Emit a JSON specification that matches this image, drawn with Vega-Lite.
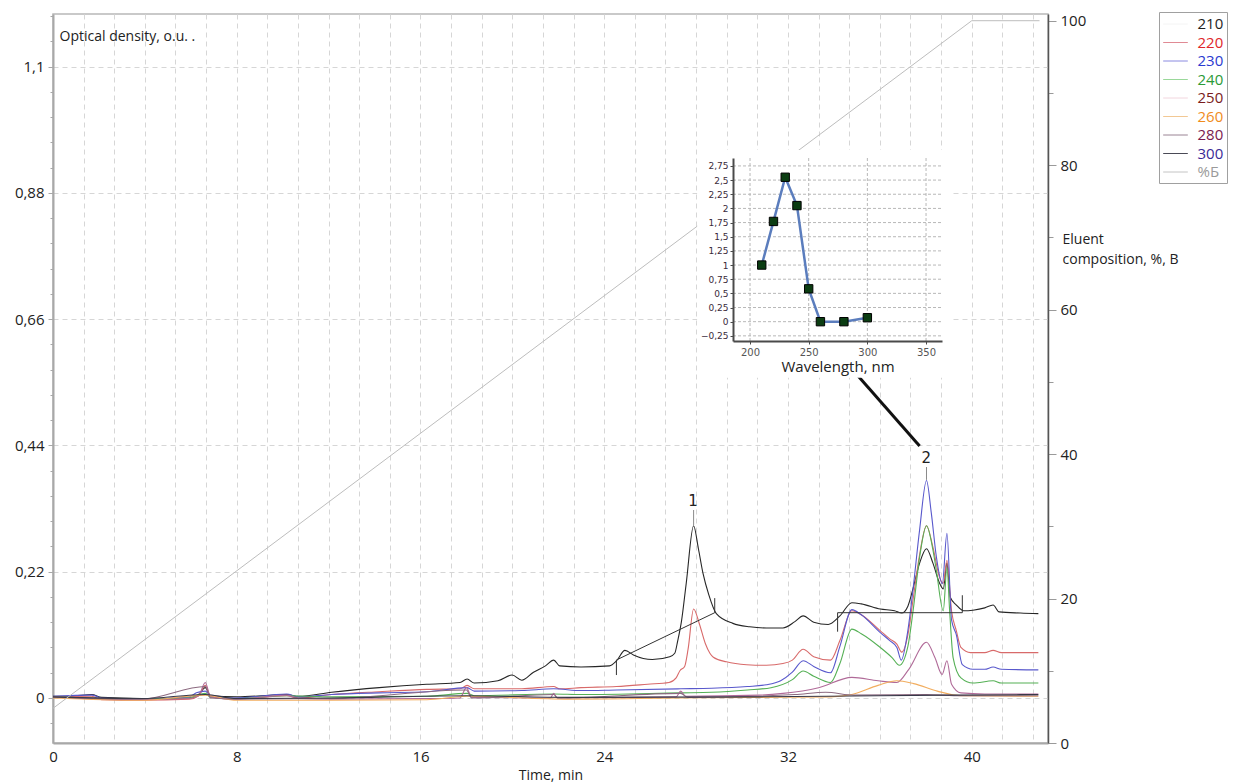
{
  "$schema": "https://vega.github.io/schema/vega-lite/v6.json",
  "width": 995,
  "height": 729,
  "autosize": {"type": "none"},
  "padding": {"left": 53, "top": 14, "right": 206, "bottom": 39},
  "background": "white",
  "config": {
    "font": "Open Sans",
    "view": {"stroke": "#b8b8b8", "strokeWidth": 1.5},
    "axis": {"labelFont": "Open Sans", "titleFont": "Open Sans", "labelOverlap": false}
  },
  "datasets": {
    "chrom": [
      {"wl":"210","t":0,"od":0.003},{"wl":"210","t":0.76,"od":0.003},{"wl":"210","t":1.69,"od":0.006},{"wl":"210","t":2.11,"od":0.001},{"wl":"210","t":3.86,"od":-0.001},{"wl":"210","t":5.93,"od":0.0},{"wl":"210","t":6.34,"od":0.006},{"wl":"210","t":6.63,"od":0.018},{"wl":"210","t":6.86,"od":0.004},{"wl":"210","t":8.0,"od":0.002},{"wl":"210","t":10.17,"od":0.006},{"wl":"210","t":10.69,"od":0.003},{"wl":"210","t":12.13,"od":0.010},{"wl":"210","t":14.2,"od":0.018},{"wl":"210","t":16.27,"od":0.024},{"wl":"210","t":17.72,"od":0.027},{"wl":"210","t":18.03,"od":0.033},{"wl":"210","t":18.34,"od":0.026},{"wl":"210","t":19.37,"od":0.030},{"wl":"210","t":19.99,"od":0.040},{"wl":"210","t":20.41,"od":0.031},{"wl":"210","t":20.92,"od":0.045},{"wl":"210","t":21.44,"od":0.056},{"wl":"210","t":21.8,"od":0.066},{"wl":"210","t":22.06,"od":0.056},{"wl":"210","t":22.99,"od":0.054},{"wl":"210","t":24.23,"od":0.056},{"wl":"210","t":24.54,"od":0.065},{"wl":"210","t":24.9,"od":0.083},{"wl":"210","t":25.27,"od":0.075},{"wl":"210","t":26.09,"od":0.067},{"wl":"210","t":26.85,"od":0.072},{"wl":"210","t":27.07,"od":0.078},{"wl":"210","t":27.2,"od":0.1},{"wl":"210","t":27.36,"od":0.133},{"wl":"210","t":27.57,"od":0.2},{"wl":"210","t":27.89,"od":0.30},{"wl":"210","t":28.1,"od":0.26},{"wl":"210","t":28.3,"od":0.217},{"wl":"210","t":28.55,"od":0.18},{"wl":"210","t":28.88,"od":0.147},{"wl":"210","t":29.6,"od":0.13},{"wl":"210","t":30.33,"od":0.124},{"wl":"210","t":31.06,"od":0.122},{"wl":"210","t":31.78,"od":0.122},{"wl":"210","t":32.3,"od":0.133},{"wl":"210","t":32.66,"od":0.143},{"wl":"210","t":33.12,"od":0.132},{"wl":"210","t":33.75,"od":0.128},{"wl":"210","t":34.26,"od":0.143},{"wl":"210","t":34.78,"od":0.166},{"wl":"210","t":35.19,"od":0.164},{"wl":"210","t":36.02,"od":0.155},{"wl":"210","t":36.64,"od":0.152},{"wl":"210","t":36.95,"od":0.148},{"wl":"210","t":37.22,"od":0.16},{"wl":"210","t":37.44,"od":0.19},{"wl":"210","t":37.73,"od":0.235},{"wl":"210","t":38.03,"od":0.26},{"wl":"210","t":38.31,"od":0.235},{"wl":"210","t":38.6,"od":0.2},{"wl":"210","t":38.76,"od":0.19},{"wl":"210","t":38.92,"od":0.235},{"wl":"210","t":39.07,"od":0.175},{"wl":"210","t":39.33,"od":0.162},{"wl":"210","t":39.64,"od":0.152},{"wl":"210","t":40.05,"od":0.153},{"wl":"210","t":40.57,"od":0.157},{"wl":"210","t":40.93,"od":0.162},{"wl":"210","t":41.19,"od":0.15},{"wl":"210","t":42.12,"od":0.148},{"wl":"210","t":42.9,"od":0.147},

      {"wl":"220","t":0,"od":0.001},{"wl":"220","t":1.69,"od":0.003},{"wl":"220","t":2.11,"od":-0.003},{"wl":"220","t":3.86,"od":-0.004},{"wl":"220","t":5.93,"od":-0.002},{"wl":"220","t":6.34,"od":0.004},{"wl":"220","t":6.63,"od":0.022},{"wl":"220","t":6.86,"od":0.002},{"wl":"220","t":8.0,"od":-0.002},{"wl":"220","t":10.17,"od":0.004},{"wl":"220","t":10.69,"od":0.0},{"wl":"220","t":12.13,"od":0.006},{"wl":"220","t":14.2,"od":0.011},{"wl":"220","t":16.27,"od":0.015},{"wl":"220","t":17.72,"od":0.016},{"wl":"220","t":18.03,"od":0.022},{"wl":"220","t":18.34,"od":0.016},{"wl":"220","t":20.41,"od":0.016},{"wl":"220","t":21.8,"od":0.02},{"wl":"220","t":22.06,"od":0.016},{"wl":"220","t":22.99,"od":0.018},{"wl":"220","t":24.54,"od":0.02},{"wl":"220","t":25.89,"od":0.024},{"wl":"220","t":26.82,"od":0.027},{"wl":"220","t":27.13,"od":0.035},{"wl":"220","t":27.3,"od":0.048},{"wl":"220","t":27.5,"od":0.055},{"wl":"220","t":27.65,"od":0.085},{"wl":"220","t":27.89,"od":0.155},{"wl":"220","t":28.15,"od":0.128},{"wl":"220","t":28.4,"od":0.095},{"wl":"220","t":28.6,"od":0.078},{"wl":"220","t":28.75,"od":0.071},{"wl":"220","t":29.32,"od":0.063},{"wl":"220","t":30.2,"od":0.058},{"wl":"220","t":31.06,"od":0.057},{"wl":"220","t":31.78,"od":0.06},{"wl":"220","t":32.19,"od":0.066},{"wl":"220","t":32.66,"od":0.085},{"wl":"220","t":33.12,"od":0.072},{"wl":"220","t":33.85,"od":0.066},{"wl":"220","t":34.26,"od":0.1},{"wl":"220","t":34.78,"od":0.152},{"wl":"220","t":35.19,"od":0.145},{"wl":"220","t":36.02,"od":0.117},{"wl":"220","t":36.43,"od":0.103},{"wl":"220","t":36.74,"od":0.094},{"wl":"220","t":36.95,"od":0.08},{"wl":"220","t":37.22,"od":0.11},{"wl":"220","t":37.44,"od":0.17},{"wl":"220","t":37.73,"od":0.25},{"wl":"220","t":38.03,"od":0.30},{"wl":"220","t":38.31,"od":0.263},{"wl":"220","t":38.6,"od":0.21},{"wl":"220","t":38.76,"od":0.2},{"wl":"220","t":38.92,"od":0.24},{"wl":"220","t":39.12,"od":0.152},{"wl":"220","t":39.33,"od":0.117},{"wl":"220","t":39.53,"od":0.088},{"wl":"220","t":39.95,"od":0.079},{"wl":"220","t":40.57,"od":0.079},{"wl":"220","t":40.93,"od":0.083},{"wl":"220","t":41.29,"od":0.079},{"wl":"220","t":42.9,"od":0.079},

      {"wl":"230","t":0,"od":0.003},{"wl":"230","t":1.69,"od":0.005},{"wl":"230","t":2.11,"od":0.0},{"wl":"230","t":3.86,"od":-0.002},{"wl":"230","t":5.93,"od":0.002},{"wl":"230","t":6.24,"od":0.009},{"wl":"230","t":6.63,"od":0.012},{"wl":"230","t":6.86,"od":0.004},{"wl":"230","t":8.0,"od":0.0},{"wl":"230","t":10.17,"od":0.007},{"wl":"230","t":10.69,"od":0.002},{"wl":"230","t":12.13,"od":0.006},{"wl":"230","t":14.2,"od":0.009},{"wl":"230","t":16.27,"od":0.011},{"wl":"230","t":18.03,"od":0.018},{"wl":"230","t":18.34,"od":0.012},{"wl":"230","t":20.41,"od":0.013},{"wl":"230","t":21.8,"od":0.016},{"wl":"230","t":22.99,"od":0.013},{"wl":"230","t":24.54,"od":0.014},{"wl":"230","t":27.33,"od":0.016},{"wl":"230","t":28.68,"od":0.017},{"wl":"230","t":30.23,"od":0.020},{"wl":"230","t":31.06,"od":0.023},{"wl":"230","t":31.68,"od":0.03},{"wl":"230","t":32.19,"od":0.045},{"wl":"230","t":32.66,"od":0.065},{"wl":"230","t":33.12,"od":0.055},{"wl":"230","t":33.85,"od":0.044},{"wl":"230","t":34.26,"od":0.09},{"wl":"230","t":34.78,"od":0.154},{"wl":"230","t":35.19,"od":0.145},{"wl":"230","t":36.02,"od":0.114},{"wl":"230","t":36.43,"od":0.1},{"wl":"230","t":36.74,"od":0.088},{"wl":"230","t":36.93,"od":0.066},{"wl":"230","t":37.22,"od":0.118},{"wl":"230","t":37.44,"od":0.188},{"wl":"230","t":37.73,"od":0.293},{"wl":"230","t":38.03,"od":0.379},{"wl":"230","t":38.24,"od":0.322},{"wl":"230","t":38.46,"od":0.246},{"wl":"230","t":38.72,"od":0.199},{"wl":"230","t":38.92,"od":0.287},{"wl":"230","t":39.12,"od":0.136},{"wl":"230","t":39.33,"od":0.11},{"wl":"230","t":39.59,"od":0.058},{"wl":"230","t":40.05,"od":0.05},{"wl":"230","t":40.57,"od":0.05},{"wl":"230","t":40.93,"od":0.054},{"wl":"230","t":41.29,"od":0.05},{"wl":"230","t":42.9,"od":0.049},

      {"wl":"240","t":0,"od":0.002},{"wl":"240","t":2.11,"od":-0.001},{"wl":"240","t":3.86,"od":-0.002},{"wl":"240","t":5.93,"od":0.0},{"wl":"240","t":6.63,"od":0.008},{"wl":"240","t":6.86,"od":0.001},{"wl":"240","t":8.0,"od":-0.001},{"wl":"240","t":10.17,"od":0.004},{"wl":"240","t":12.13,"od":0.002},{"wl":"240","t":16.27,"od":0.003},{"wl":"240","t":18.03,"od":0.008},{"wl":"240","t":18.34,"od":0.004},{"wl":"240","t":21.8,"od":0.007},{"wl":"240","t":22.99,"od":0.006},{"wl":"240","t":27.33,"od":0.009},{"wl":"240","t":28.68,"od":0.01},{"wl":"240","t":30.23,"od":0.014},{"wl":"240","t":31.26,"od":0.018},{"wl":"240","t":32.19,"od":0.032},{"wl":"240","t":32.66,"od":0.047},{"wl":"240","t":33.12,"od":0.038},{"wl":"240","t":33.85,"od":0.027},{"wl":"240","t":34.26,"od":0.06},{"wl":"240","t":34.78,"od":0.12},{"wl":"240","t":35.19,"od":0.112},{"wl":"240","t":36.02,"od":0.088},{"wl":"240","t":36.54,"od":0.07},{"wl":"240","t":36.85,"od":0.057},{"wl":"240","t":37.22,"od":0.09},{"wl":"240","t":37.44,"od":0.15},{"wl":"240","t":37.73,"od":0.245},{"wl":"240","t":38.03,"od":0.30},{"wl":"240","t":38.31,"od":0.258},{"wl":"240","t":38.46,"od":0.222},{"wl":"240","t":38.76,"od":0.152},{"wl":"240","t":38.92,"od":0.227},{"wl":"240","t":39.04,"od":0.15},{"wl":"240","t":39.19,"od":0.07},{"wl":"240","t":39.53,"od":0.035},{"wl":"240","t":40.05,"od":0.026},{"wl":"240","t":40.93,"od":0.03},{"wl":"240","t":41.29,"od":0.026},{"wl":"240","t":42.9,"od":0.026},

      {"wl":"250","t":0,"od":0.002},{"wl":"250","t":2.11,"od":-0.002},{"wl":"250","t":3.86,"od":-0.003},{"wl":"250","t":5.93,"od":-0.001},{"wl":"250","t":6.34,"od":0.004},{"wl":"250","t":6.63,"od":0.027},{"wl":"250","t":6.86,"od":0.002},{"wl":"250","t":8.0,"od":-0.002},{"wl":"250","t":10.17,"od":0.005},{"wl":"250","t":10.69,"od":-0.001},{"wl":"250","t":12.13,"od":-0.002},{"wl":"250","t":16.27,"od":-0.001},{"wl":"250","t":17.72,"od":0.0},{"wl":"250","t":18.0,"od":0.018},{"wl":"250","t":18.23,"od":0.001},{"wl":"250","t":21.65,"od":0.0},{"wl":"250","t":21.8,"od":0.008},{"wl":"250","t":21.96,"od":0.0},{"wl":"250","t":27.13,"od":0.002},{"wl":"250","t":27.33,"od":0.012},{"wl":"250","t":27.54,"od":0.003},{"wl":"250","t":30.75,"od":0.005},{"wl":"250","t":31.78,"od":0.008},{"wl":"250","t":33.33,"od":0.018},{"wl":"250","t":34.78,"od":0.036},{"wl":"250","t":35.92,"od":0.03},{"wl":"250","t":36.74,"od":0.027},{"wl":"250","t":37.26,"od":0.05},{"wl":"250","t":38.03,"od":0.097},{"wl":"250","t":38.4,"od":0.07},{"wl":"250","t":38.71,"od":0.041},{"wl":"250","t":38.92,"od":0.065},{"wl":"250","t":39.12,"od":0.024},{"wl":"250","t":39.53,"od":0.009},{"wl":"250","t":40.57,"od":0.007},{"wl":"250","t":42.9,"od":0.007},

      {"wl":"260","t":0,"od":0.0},{"wl":"260","t":3.86,"od":-0.004},{"wl":"260","t":6.63,"od":0.005},{"wl":"260","t":8.0,"od":-0.004},{"wl":"260","t":12.13,"od":-0.004},{"wl":"260","t":16.27,"od":-0.003},{"wl":"260","t":18.0,"od":0.003},{"wl":"260","t":22.47,"od":-0.002},{"wl":"260","t":27.33,"od":0.0},{"wl":"260","t":30.75,"od":0.001},{"wl":"260","t":33.85,"od":0.002},{"wl":"260","t":34.78,"od":0.006},{"wl":"260","t":35.92,"od":0.022},{"wl":"260","t":36.74,"od":0.03},{"wl":"260","t":37.47,"od":0.025},{"wl":"260","t":38.5,"od":0.012},{"wl":"260","t":39.53,"od":0.004},{"wl":"260","t":42.9,"od":0.003},

      {"wl":"280","t":0,"od":0.002},{"wl":"280","t":3.86,"od":-0.002},{"wl":"280","t":6.63,"od":0.02},{"wl":"280","t":6.86,"od":0.0},{"wl":"280","t":8.0,"od":-0.002},{"wl":"280","t":12.13,"od":-0.001},{"wl":"280","t":18.0,"od":0.014},{"wl":"280","t":18.23,"od":0.0},{"wl":"280","t":21.8,"od":0.006},{"wl":"280","t":21.96,"od":0.0},{"wl":"280","t":27.33,"od":0.008},{"wl":"280","t":27.64,"od":0.001},{"wl":"280","t":32.3,"od":0.006},{"wl":"280","t":33.64,"od":0.01},{"wl":"280","t":34.88,"od":0.005},{"wl":"280","t":38.03,"od":0.006},{"wl":"280","t":39.53,"od":0.004},{"wl":"280","t":42.9,"od":0.004},

      {"wl":"300","t":0,"od":0.002},{"wl":"300","t":3.86,"od":-0.001},{"wl":"300","t":6.63,"od":0.006},{"wl":"300","t":8.0,"od":-0.001},{"wl":"300","t":12.13,"od":0.0},{"wl":"300","t":18.0,"od":0.004},{"wl":"300","t":22.47,"od":0.001},{"wl":"300","t":30.75,"od":0.002},{"wl":"300","t":35.92,"od":0.004},{"wl":"300","t":39.02,"od":0.005},{"wl":"300","t":42.9,"od":0.006}
    ],
    "pb": [
      {"wl":"%Б","t":0,"pb":4.8},{"wl":"%Б","t":40.0,"pb":100},{"wl":"%Б","t":42.95,"pb":100}
    ],
    "peaks": [
      {"t":27.87,"od":0.343,"label":"1"},{"t":38.02,"od":0.418,"label":"2"}
    ],
    "apexTicks": [
      {"t":27.89,"od":0.301,"od2":0.3275},{"t":38.03,"od":0.38,"od2":0.4024}
    ],
    "baselines": [
      {"t":24.53,"od":0.0662,"t2":28.81,"od2":0.1486},
      {"t":24.53,"od":0.0662,"t2":24.53,"od2":0.040},
      {"t":28.81,"od":0.1486,"t2":28.81,"od2":0.174},
      {"t":34.16,"od":0.1486,"t2":39.59,"od2":0.1486},
      {"t":34.16,"od":0.1486,"t2":34.16,"od2":0.1155},
      {"t":39.59,"od":0.1486,"t2":39.59,"od2":0.179}
    ],
    "leader": [
      {"t":34.9,"od":0.568,"t2":37.73,"od2":0.439}
    ],
    "spectrum": [
      {"nm":210,"v":1.0},{"nm":220,"v":1.77},{"nm":230,"v":2.55},{"nm":240,"v":2.05},{"nm":250,"v":0.58},{"nm":260,"v":0.0},{"nm":280,"v":0.0},{"nm":300,"v":0.07}
    ],
    "igx": [{"gx":200},{"gx":250},{"gx":300},{"gx":350}],
    "igy": [{"gy":-0.25},{"gy":0},{"gy":0.25},{"gy":0.5},{"gy":0.75},{"gy":1},{"gy":1.25},{"gy":1.5},{"gy":1.75},{"gy":2},{"gy":2.25},{"gy":2.5},{"gy":2.75}]
  },
  "layer": [
    {
      "layer": [
        {
          "data": {"name": "chrom"},
          "transform": [{"filter": "datum.t < -100"}],
          "mark": {"type": "line", "strokeWidth": 1},
          "encoding": {
            "x": {"field": "t", "type": "quantitative"},
            "y": {"field": "od", "type": "quantitative"},
            "color": {
              "field": "wl", "type": "nominal",
              "scale": {
                "domain": ["210", "220", "230", "240", "250", "260", "280", "300", "%Б"],
                "range": ["#f4f4f4", "#e08a94", "#8a8ae0", "#9ad89a", "#f2d6de", "#f2c894", "#9a8494", "#4a4a56", "#c4c4c4"]
              },
              "legend": {
                "orient": "none", "legendX": 1106, "legendY": -2,
                "title": null,
                "symbolType": "M-1.45,0H1.45", "symbolSize": 289, "symbolStrokeWidth": 1, "symbolOffset": 4.5,
                "labelFontSize": 15, "labelFont": "Open Sans", "labelOffset": 13, "rowPadding": 1.5,
                "padding": 3, "strokeColor": "#a0a0a0", "fillColor": "white",
                "labelExpr": "datum.label + '           '",
                "encode": {
                  "labels": {"update": {"fill": {"signal": "['#1e1e1e','#e0262a','#2a3ad0','#2a9a36','#7a1c1c','#f08c1c','#7a1a50','#3a2a96','#9a9a9a'][indexof(['210','220','230','240','250','260','280','300','%Б'], datum.value)]"}}}
                }
              }
            }
          }
        },
        {
          "data": {"name": "chrom"},
          "mark": {"type": "line", "strokeWidth": 1.1, "interpolate": "monotone"},
          "encoding": {
            "x": {
              "field": "t", "type": "quantitative",
              "scale": {"domain": [0, 43.32], "nice": false, "zero": false},
              "axis": {
                "values": [0, 8, 16, 24, 32, 40],
                "title": "Time, min", "titleFontSize": 14, "titleFontWeight": "normal", "titleColor": "#222", "titlePadding": 4,
                "labelFontSize": 15, "labelColor": "#222", "labelPadding": 6, "labelFlush": false,
                "ticks": false, "grid": false, "domainColor": "#a8a8a8", "domainWidth": 2
              }
            },
            "y": {
              "field": "od", "type": "quantitative",
              "scale": {"domain": [-0.0784, 1.1916], "nice": false, "zero": false},
              "axis": {
                "values": [0, 0.22, 0.44, 0.66, 0.88, 1.1],
                "labelExpr": "replace(format(datum.value, '.2~f'), '.', ',')",
                "labelOverlap": false,
                "grid": true, "gridDash": [5, 4], "gridColor": "#d6d6d6",
                "tickSize": 5, "tickColor": "#a8a8a8",
                "labelFontSize": 15, "labelColor": "#222", "labelPadding": 4,
                "domainColor": "#a8a8a8", "domainWidth": 2,
                "title": "Optical density, o.u. .", "titleAngle": 0, "titleAlign": "left", "titleBaseline": "middle",
                "titleX": 6, "titleY": 22, "titleFontSize": 14, "titleFontWeight": "normal", "titleColor": "#222"
              }
            },
            "stroke": {
              "field": "wl", "type": "nominal",
              "scale": {
                "domain": ["210", "220", "230", "240", "250", "260", "280", "300", "%Б"],
                "range": ["#262626", "#d86a6a", "#5858cc", "#55b055", "#b06a98", "#f2ad5e", "#8c6a80", "#383848", "#bdbdbd"]
              },
              "legend": null
            }
          }
        },
        {
          "data": {"name": "baselines"},
          "mark": {"type": "rule", "color": "#333333", "strokeWidth": 1},
          "encoding": {
            "x": {"field": "t", "type": "quantitative"},
            "x2": {"field": "t2"},
            "y": {"field": "od", "type": "quantitative"},
            "y2": {"field": "od2"}
          }
        },
        {
          "data": {"name": "apexTicks"},
          "mark": {"type": "rule", "color": "#8a8a8a", "strokeWidth": 1},
          "encoding": {
            "x": {"field": "t", "type": "quantitative"},
            "y": {"field": "od", "type": "quantitative"},
            "y2": {"field": "od2"}
          }
        },
        {
          "data": {"name": "leader"},
          "mark": {"type": "rule", "color": "#111111", "strokeWidth": 3},
          "encoding": {
            "x": {"field": "t", "type": "quantitative"},
            "x2": {"field": "t2"},
            "y": {"field": "od", "type": "quantitative"},
            "y2": {"field": "od2"}
          }
        },
        {
          "data": {"name": "peaks"},
          "mark": {"type": "text", "fontSize": 15, "font": "DejaVu Sans", "color": "#222", "baseline": "middle", "align": "center"},
          "encoding": {
            "x": {"field": "t", "type": "quantitative"},
            "y": {"field": "od", "type": "quantitative"},
            "text": {"field": "label"}
          }
        }
      ]
    },
    {
      "data": {"name": "pb"},
      "mark": {"type": "line", "strokeWidth": 1},
      "encoding": {
        "x": {
          "field": "t", "type": "quantitative",
          "scale": {"domain": [0, 43.32], "nice": false, "zero": false},
          "axis": {
            "orient": "bottom",
            "values": [1.3333, 2.6667, 4, 5.3333, 6.6667, 8, 9.3333, 10.6667, 12, 13.3333, 14.6667, 16, 17.3333, 18.6667, 20, 21.3333, 22.6667, 24, 25.3333, 26.6667, 28, 29.3333, 30.6667, 32, 33.3333, 34.6667, 36, 37.3333, 38.6667, 40, 41.3333, 42.6667],
            "grid": true, "gridDash": [5, 4], "gridColor": "#d6d6d6",
            "labels": false, "ticks": false, "domain": false, "title": null
          }
        },
        "y": {
          "field": "pb", "type": "quantitative",
          "scale": {"domain": [0, 100.93], "nice": false, "zero": false},
          "axis": {
            "orient": "right",
            "values": [0, 10, 20, 30, 40, 50, 60, 70, 80, 90, 100],
            "labelExpr": "datum.value % 20 == 0 ? datum.label : ''",
            "labelOverlap": false,
            "tickSize": {"condition": {"test": "datum.value % 20 == 0", "value": 8}, "value": 5},
            "tickColor": "#9a9a9a",
            "grid": false,
            "labelFontSize": 15, "labelColor": "#222", "labelPadding": 4,
            "domainColor": "#555555", "domainWidth": 1.5,
            "title": ["Eluent", "composition, %, B"],
            "titleAngle": 0, "titleAlign": "left", "titleBaseline": "top",
            "titleX": 14, "titleY": 218, "titleFontSize": 14, "titleFontWeight": "normal", "titleLineHeight": 20, "titleColor": "#222"
          }
        },
        "stroke": {"field": "wl", "type": "nominal", "legend": null}
      }
    },
    {
      "data": {"name": "chrom"},
      "transform": [{"filter": "datum.t < -100"}],
      "mark": {"type": "line"},
      "encoding": {
        "x": {"field": "t", "type": "quantitative", "scale": {"domain": [0, 43.32], "nice": false, "zero": false}, "axis": null},
        "y": {
          "field": "od", "type": "quantitative",
          "scale": {"domain": [-0.0784, 1.1916], "nice": false, "zero": false},
          "axis": {
            "orient": "left",
            "values": [-0.044, 0.044, 0.088, 0.132, 0.176, 0.264, 0.308, 0.352, 0.396, 0.484, 0.528, 0.572, 0.616, 0.704, 0.748, 0.792, 0.836, 0.924, 0.968, 1.012, 1.056, 1.144, 1.188],
            "labels": false, "domain": false, "grid": false, "title": null,
            "tickSize": 3, "tickColor": "#a8a8a8"
          }
        }
      }
    },
    {
      "layer": [
        {
          "data": {"values": [{}]},
          "mark": {"type": "rect", "fill": "white", "strokeWidth": 0},
          "encoding": {
            "x": {"datum": 155, "type": "quantitative"},
            "x2": {"datum": 372},
            "y": {"datum": -0.99, "type": "quantitative"},
            "y2": {"datum": 3.03}
          }
        },
        {
          "data": {"name": "igx"},
          "mark": {"type": "rule", "color": "#b8b8b8", "strokeWidth": 1, "strokeDash": [3, 2]},
          "encoding": {
            "x": {"field": "gx", "type": "quantitative"},
            "y": {"datum": -0.341, "type": "quantitative"},
            "y2": {"datum": 2.89}
          }
        },
        {
          "data": {"name": "igy"},
          "mark": {"type": "rule", "color": "#b8b8b8", "strokeWidth": 1, "strokeDash": [3, 2]},
          "encoding": {
            "y": {"field": "gy", "type": "quantitative"},
            "x": {"datum": 185.5, "type": "quantitative"},
            "x2": {"datum": 363.6}
          }
        },
        {
          "data": {"name": "spectrum"},
          "mark": {"type": "line", "color": "#5b7dbd", "strokeWidth": 2.5},
          "encoding": {
            "x": {
              "field": "nm", "type": "quantitative",
              "scale": {"domain": [185.5, 363.6], "range": [680, 889], "nice": false, "zero": false},
              "axis": {
                "orient": "bottom", "offset": -402, "zindex": 1,
                "values": [200, 250, 300, 350],
                "grid": false, "domainColor": "#4a4a4a", "domainWidth": 2,
                "tickColor": "#4a4a4a", "tickSize": 3,
                "labelFontSize": 10, "labelFont": "DejaVu Sans", "labelColor": "#555", "labelPadding": 3, "labelFlush": false,
                "title": "Wavelength, nm", "titleFontSize": 15, "titleFontWeight": "normal", "titleColor": "#222", "titlePadding": 2
              }
            },
            "y": {
              "field": "v", "type": "quantitative",
              "scale": {"domain": [-0.341, 2.89], "range": [327, 144], "nice": false, "zero": false},
              "axis": {
                "orient": "left", "offset": -680, "zindex": 1,
                "values": [-0.25, 0, 0.25, 0.5, 0.75, 1, 1.25, 1.5, 1.75, 2, 2.25, 2.5, 2.75],
                "labelExpr": "replace(format(datum.value, '.2~f'), '.', ',')",
                "labelOverlap": false,
                "grid": false, "domainColor": "#4a4a4a", "domainWidth": 2,
                "tickColor": "#4a4a4a", "tickSize": 3,
                "labelFontSize": 9, "labelFont": "DejaVu Sans", "labelColor": "#3a2a3a", "labelPadding": 2,
                "title": null
              }
            }
          }
        },
        {
          "data": {"name": "spectrum"},
          "mark": {"type": "square", "size": 70, "fill": "#0b3d12", "stroke": "#000000", "strokeWidth": 1, "opacity": 1},
          "encoding": {
            "x": {"field": "nm", "type": "quantitative"},
            "y": {"field": "v", "type": "quantitative"}
          }
        }
      ]
    }
  ],
  "resolve": {"scale": {"x": "independent", "y": "independent"}}
}
